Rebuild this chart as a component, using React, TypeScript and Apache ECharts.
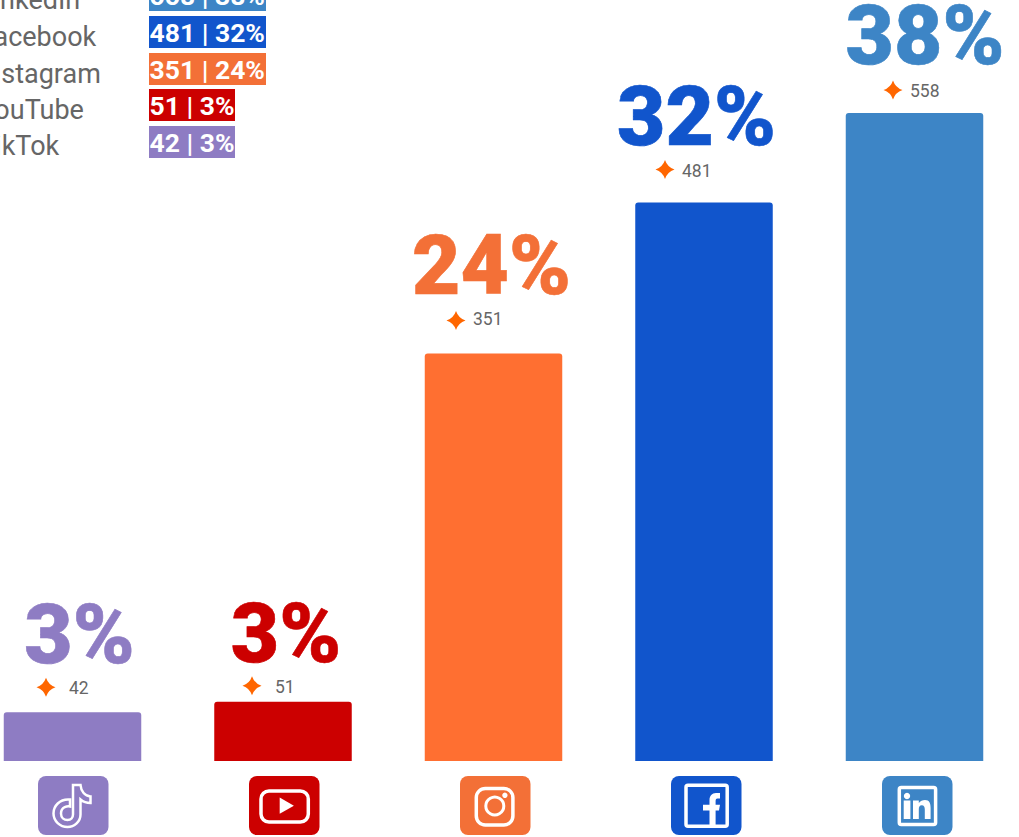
import React, { useEffect, useRef } from "react";
import * as echarts from "echarts";

const categories = ["TikTok", "YouTube", "Instagram", "Facebook", "LinkedIn"];
const counts = [42, 51, 351, 481, 558];
const percents = ["3%", "3%", "24%", "32%", "38%"];
const barColors = ["#8E7CC3", "#CC0000", "#FF6F31", "#1155CC", "#3D85C6"];
const tileColors = ["#8E7CC3", "#CC0000", "#F37037", "#1155CC", "#3D85C6"];

const legendOrder = [4, 3, 2, 1, 0];
const legendTextY = [0, 37, 74, 110, 146];
const legendBoxTop = [-21, 16, 53, 89, 126];
const legendBoxWidth = [117, 117, 117, 86, 86];

const pctOffsets = [[7, -31], [3, -21], [-2, -41], [-7.5, -38.5], [10.5, -31]];
const starOffsets = [[-26.5, -25], [-31, -16], [-37.5, -33], [-39, -33], [-21.5, -23]];
const countGaps = [23, 23, 17, 17, 17];
const countDy = [1, 1, -1, 2, 1];

const STAR = "path://M0 -10 Q2.5 -2.5 10 0 Q2.5 2.5 0 10 Q-2.5 2.5 -10 0 Q-2.5 -2.5 0 -10 Z";
const TIKTOK =
  "M73 785.5 H80.5 C81 792 85 796.5 90.5 797 V803.5 C87 803.5 83.5 802.5 80.5 800 V815 C80.5 822 74.5 827.5 67.5 827.5 C60 827.5 53.5 821.5 53.5 814 C53.5 806 60 800 68 800 L70 800 V807 C68 806.5 61 807 61 814 C61 818 64 820.5 67.5 820.5 C71 820.5 73 818 73 815 Z";
const F_GLYPH =
  "M709.5 826 V810.4 H703 V804.7 H709.5 V800 C709.5 796 712 793 716 793 H720 V798.5 H717.5 C716 798.5 715.6 799.5 715.6 801.5 V804.7 H720 L719 810.4 H715.6 V826 Z";
const IN_GLYPH =
  "M903.7 800.5 H910.4 V819 H903.7 Z M913 819 V800.5 H918.8 V803 C920.3 801 922.5 800 925 800 C929.5 800 930.6 803.5 930.6 808 V819 H924.8 V809.5 C924.8 807 924 805.2 921.8 805.2 C919.5 805.2 918.8 807 918.8 809.5 V819 Z";

echarts.graphic.registerShape("tiktokGlyph", echarts.graphic.extendPath(TIKTOK, {}) as any);
echarts.graphic.registerShape("fGlyph", echarts.graphic.extendPath(F_GLYPH, {}) as any);
echarts.graphic.registerShape("inGlyph", echarts.graphic.extendPath(IN_GLYPH, {}) as any);

const tileX = [38, 249, 460, 671, 882];
const FONT = "Roboto";

function buildGraphics() {
  const out: any[] = [];
  legendOrder.forEach((idx, row) => {
    out.push({
      type: "text",
      x: -21,
      y: legendTextY[row],
      style: { text: categories[idx], font: `400 27px ${FONT}`, fill: "#666666", textVerticalAlign: "middle" },
    });
    out.push({
      type: "rect",
      shape: { x: 149, y: legendBoxTop[row], width: legendBoxWidth[row], height: 32 },
      style: { fill: tileColors[idx] },
    });
    out.push({
      type: "text",
      x: 149.5,
      y: legendBoxTop[row] + 16,
      style: {
        text: `${counts[idx]} | ${percents[idx]}`,
        font: `700 26.5px ${FONT}`,
        fill: "#FFFFFF",
        textVerticalAlign: "middle",
      },
    });
  });
  tileX.forEach((x, i) => {
    out.push({
      type: "rect",
      shape: { x, y: 776, width: 70.5, height: 59, r: 8 },
      style: { fill: tileColors[i] },
    });
  });
  const white = { stroke: "#FFFFFF", fill: "none" };
  out.push({ type: "tiktokGlyph", y: -0.5, style: { ...white, lineWidth: 2.5 } });
  out.push({
    type: "rect",
    shape: { x: 261, y: 791, width: 47.3, height: 31, r: 8 },
    style: { ...white, lineWidth: 3.5 },
  });
  out.push({
    type: "polygon",
    shape: { points: [[279.7, 797.6], [279.7, 813.8], [293.9, 805.7]] },
    style: { fill: "#FFFFFF" },
  });
  out.push({
    type: "rect",
    shape: { x: 476.3, y: 788.5, width: 36.6, height: 36.5, r: 9 },
    style: { ...white, lineWidth: 3.5 },
  });
  out.push({ type: "circle", shape: { cx: 494.8, cy: 806, r: 9 }, style: { ...white, lineWidth: 3 } });
  out.push({ type: "circle", shape: { cx: 504.9, cy: 795.3, r: 2.7 }, style: { fill: "#FFFFFF" } });
  out.push({
    type: "rect",
    shape: { x: 686, y: 785.3, width: 41.2, height: 41, r: 2 },
    style: { ...white, lineWidth: 3.5 },
  });
  out.push({ type: "fGlyph", style: { fill: "#FFFFFF" } });
  out.push({
    type: "rect",
    shape: { x: 899.3, y: 787.5, width: 36.3, height: 37, r: 2 },
    style: { ...white, lineWidth: 3.5 },
  });
  out.push({ type: "circle", shape: { cx: 907, cy: 796, r: 3.2 }, style: { fill: "#FFFFFF" } });
  out.push({ type: "inGlyph", style: { fill: "#FFFFFF" } });
  return out;
}

export default function App() {
  const ref = useRef<HTMLDivElement>(null);
  useEffect(() => {
    const chart = echarts.init(ref.current!, undefined, { renderer: "svg" });
    chart.setOption({
      animation: false,
      backgroundColor: "#FFFFFF",
      grid: { left: -32.75, top: 0.4, width: 1052.5, height: 760.6, containLabel: false, outerBoundsMode: "none" },
      xAxis: {
        type: "category",
        data: categories,
        axisLine: { show: false },
        axisTick: { show: false },
        axisLabel: { show: false },
      },
      yAxis: { type: "value", min: 0, max: 655, show: false, splitLine: { show: false } },
      graphic: buildGraphics(),
      series: [
        {
          type: "bar",
          barWidth: 137.5,
          clip: false,
          data: counts.map((v, i) => {
            const color = barColors[i] === "#FF6F31" ? "#F37037" : barColors[i];
            return {
              value: v,
              itemStyle: { color: barColors[i], borderRadius: [3, 3, 0, 0] },
              label: {
                show: true,
                position: "top",
                formatter: percents[i],
                offset: pctOffsets[i],
                fontFamily: FONT,
                fontWeight: 900,
                fontSize: 83.5,
                color,
                textBorderColor: color,
                textBorderWidth: 0.6,
              },
            };
          }),
        },
        {
          type: "scatter",
          clip: false,
          symbol: STAR,
          symbolSize: 19,
          z: 5,
          data: counts.map((v, i) => ({
            value: [categories[i], v],
            symbolOffset: starOffsets[i],
            itemStyle: { color: "#FF6600", opacity: 1 },
            label: {
              show: true,
              position: "right",
              distance: countGaps[i] - 9.5,
              offset: [0, countDy[i]],
              formatter: String(v),
              fontFamily: FONT,
              fontSize: 17.5,
              color: "#666666",
            },
          })),
        },
      ],
    });
    return () => chart.dispose();
  }, []);
  return <div ref={ref} style={{ position: "fixed", left: 0, top: 0, width: 1019, height: 837 }} />;
}
